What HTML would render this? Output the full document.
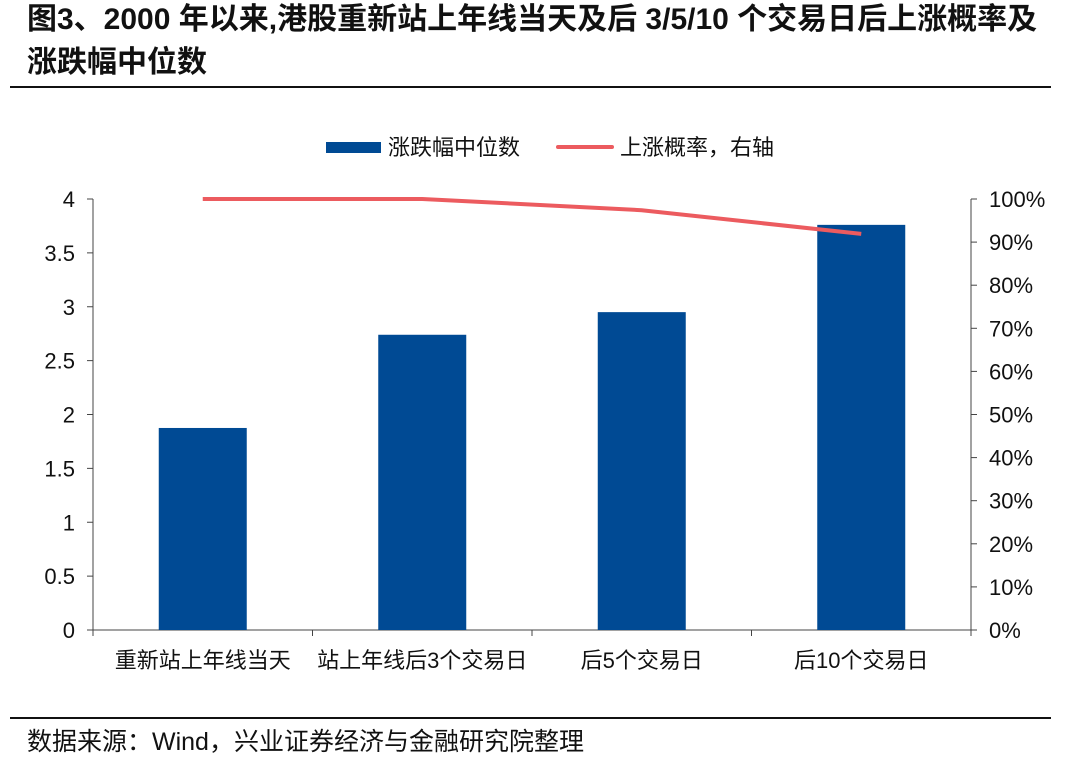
<!DOCTYPE html>
<html><head><meta charset="utf-8"><style>
body{margin:0;width:1067px;height:752px;background:#fff;font-family:"Liberation Sans","Noto Sans CJK SC",sans-serif;overflow:hidden;position:relative}
.t{position:absolute;left:27px;font-weight:bold;font-size:30px;color:#111;line-height:43px;top:-2px;white-space:nowrap}
</style></head><body>
<div class="t">图3、2000 年以来,港股重新站上年线当天及后 3/5/10 个交易日后上涨概率及<br>涨跌幅中位数</div>
<div style="position:absolute;left:10px;top:86px;width:1041px;height:2px;background:#111"></div>
<div style="position:absolute;left:10px;top:717px;width:1041px;height:2px;background:#111"></div>
<div style="position:absolute;left:27px;top:722px;font-size:25px;color:#111;white-space:nowrap">数据来源：Wind，兴业证券经济与金融研究院整理</div>
<svg id="c" width="1067" height="752" style="position:absolute;left:0;top:0" font-family="Liberation Sans, Noto Sans CJK SC, sans-serif"></svg>
<script>
const categories=["重新站上年线当天","站上年线后3个交易日","后5个交易日","后10个交易日"];
const medianValues=[1.875,2.74,2.95,3.76];
const upProb=[100,100,97.4,91.9];
const leftTicks=[0,0.5,1,1.5,2,2.5,3,3.5,4];
const rightTicks=[0,10,20,30,40,50,60,70,80,90,100];
const svg=document.getElementById('c');const NS='http://www.w3.org/2000/svg';
function mk(t,a,p){const e=document.createElementNS(NS,t);for(const k in a)e.setAttribute(k,a[k]);(p||svg).appendChild(e);return e;}
const X0=93,X1=971,Y0=630,Y1=199;
const bw=(X1-X0)/categories.length;
const yL=v=>Y0-(v/4)*(Y0-Y1);
const yR=v=>Y0-(v/100)*(Y0-Y1);
const xc=i=>X0+bw*(i+0.5);
let a=mk('line',{x1:X0,y1:Y1,x2:X0,y2:Y0,stroke:'#444'});
a=mk('line',{x1:X1,y1:Y1,x2:X1,y2:Y0,stroke:'#444'});
a=mk('line',{x1:X0,y1:Y0,x2:X1,y2:Y0,stroke:'#444'});
leftTicks.forEach(v=>{mk('line',{x1:X0-6,x2:X0,y1:yL(v),y2:yL(v),stroke:'#444'});
const t=mk('text',{x:X0-18,y:yL(v)+8,'text-anchor':'end','font-size':22,fill:'#111'});t.textContent=v;
});
rightTicks.forEach(v=>{mk('line',{x1:X1,x2:X1+6,y1:yR(v),y2:yR(v),stroke:'#444'});
const t=mk('text',{x:X1+18,y:yR(v)+8,'font-size':22,fill:'#111'});t.textContent=v+'%';
});
for(let i=0;i<=categories.length;i++)mk('line',{x1:X0+bw*i,x2:X0+bw*i,y1:Y0,y2:Y0+6,stroke:'#444'});
categories.forEach((c,i)=>{const t=mk('text',{x:xc(i),y:668,'text-anchor':'middle','font-size':22,fill:'#111'});t.textContent=c;
});
medianValues.forEach((v,i)=>{const r=mk('rect',{x:xc(i)-44,y:yL(v),width:88,height:Y0-yL(v),fill:'#004a94'});
});
const pl=mk('polyline',{points:upProb.map((v,i)=>xc(i)+','+yR(v)).join(' '),fill:'none',stroke:'#ec5b5f','stroke-width':4});

let l=mk('rect',{x:326,y:142,width:55,height:11,fill:'#004a94'});
let lt=mk('text',{x:388,y:155,'font-size':22,fill:'#111'});lt.textContent='涨跌幅中位数';
l=mk('line',{x1:558,x2:612,y1:147,y2:147,stroke:'#ec5b5f','stroke-width':4,'stroke-linecap':'round'});
lt=mk('text',{x:620,y:155,'font-size':22,fill:'#111'});lt.textContent='上涨概率，右轴';
</script>
</body></html>
